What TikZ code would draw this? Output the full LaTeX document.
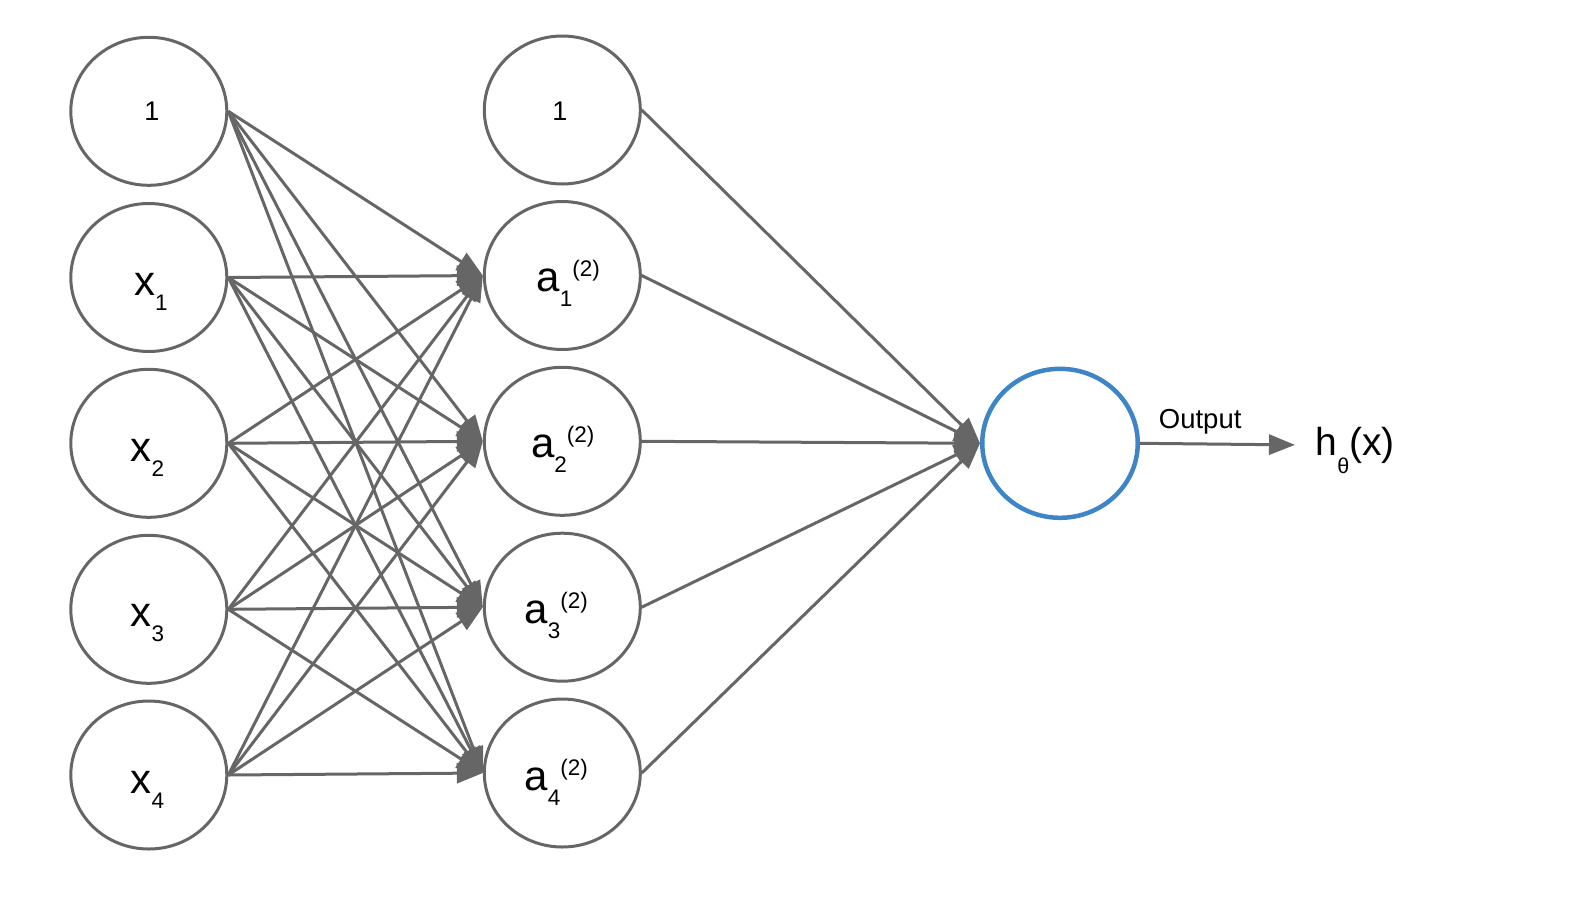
\documentclass[tikz,border=0pt]{standalone}
\usepackage{fontspec}
\setmainfont{Liberation Sans}
\usetikzlibrary{arrows.meta,shapes.geometric}
\definecolor{edgegray}{HTML}{666666}
\definecolor{outblue}{HTML}{3D85C6}
\newcommand\nlbl[3]{\makebox[0pt]{\hspace*{#1}\raisebox{#2}[0pt][0pt]{#3}}}
\newcommand\xvar[1]{{\fontsize{42}{42}\selectfont x}\raisebox{-15pt}{\fontsize{22.5}{22.5}\selectfont #1}}
\newcommand\avar[1]{{\fontsize{42}{42}\selectfont a}\raisebox{-15pt}{\fontsize{22.5}{22.5}\selectfont #1}\raisebox{15pt}{\fontsize{22.5}{22.5}\selectfont (2)}}
\newcommand\biasone{{\fontsize{27}{27}\selectfont 1}}
\begin{document}
\begin{tikzpicture}[x=1pt,y=-1pt,
  neuron/.style={ellipse, draw=edgegray, line width=3pt, fill=white,
    minimum width=156pt, minimum height=148pt, inner sep=0pt},
  outneuron/.style={neuron, draw=outblue, line width=4.5pt,
    minimum width=155.5pt, minimum height=149pt},
  conn/.style={draw=edgegray, line width=3pt, -{Triangle[length=26pt,width=20pt]}}]
\useasboundingbox (0,0) rectangle (1594,910);
% input layer
\node[neuron] (i0) at (148.8,111.3) {\nlbl{6pt}{-8.7pt}{\biasone}};
\node[neuron] (i1) at (148.8,277.5) {\nlbl{4pt}{-18.4pt}{\xvar{1}}};
\node[neuron] (i2) at (148.8,443.3) {\nlbl{-3pt}{-18.4pt}{\xvar{2}}};
\node[neuron] (i3) at (148.8,609.3) {\nlbl{-3pt}{-17.3pt}{\xvar{3}}};
\node[neuron] (i4) at (148.8,775) {\nlbl{-3pt}{-18.3pt}{\xvar{4}}};
% hidden layer
\node[neuron] (h0) at (562.3,110) {\nlbl{-5pt}{-10.7pt}{\biasone}};
\node[neuron] (h1) at (562.3,275.5) {\nlbl{12pt}{-16.3pt}{\avar{1}}};
\node[neuron] (h2) at (562.3,441.3) {\nlbl{1pt}{-16pt}{\avar{2}}};
\node[neuron] (h3) at (562.3,607.2) {\nlbl{-12pt}{-16pt}{\avar{3}}};
\node[neuron] (h4) at (562.3,773) {\nlbl{-12pt}{-17pt}{\avar{4}}};
% output
\node[outneuron] (out) at (1060,443.3) {};
\node[anchor=base west, inner sep=0pt] (outlbl) at (1158.7,428.3)
  {\fontsize{27.5}{27.5}\selectfont Output};
\node[anchor=base west, inner xsep=20.5pt, inner ysep=0pt] (hx) at (1295,455)
  {\fontsize{39}{39}\selectfont h\raisebox{-18pt}[0pt][0pt]{\fontsize{21.5}{21.5}\selectfont θ}(x)};
% connectors
\foreach \i in {0,...,4}
  \foreach \j in {1,...,4}
    \draw[conn] (i\i.east) -- (h\j.west);
\foreach \j in {0,...,4}
  \draw[conn] (h\j.east) -- (out.west);
\draw[conn] (out.east) -- (hx.west);
\end{tikzpicture}
\end{document}
